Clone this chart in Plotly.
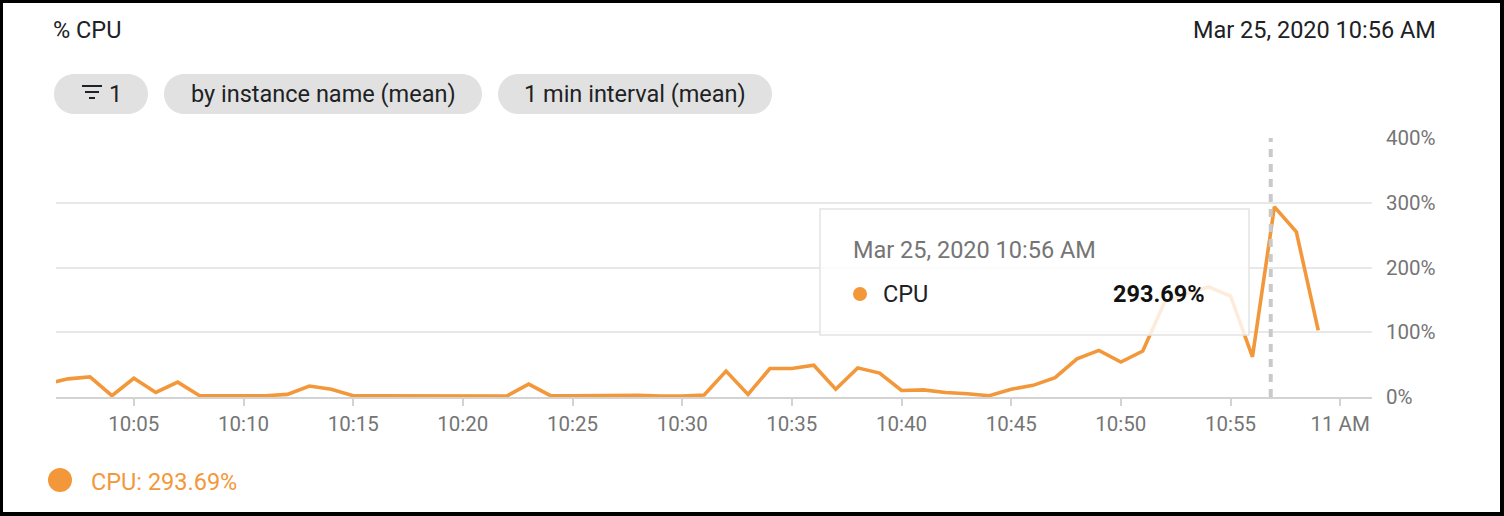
import plotly.graph_objects as go

# ---------------- data ----------------
times = [f"2020-03-25 10:{m:02d}:00" for m in range(1, 60)]
cpu_values = [
    20, 28, 31, 2, 29, 7, 23, 2, 2, 2,          # 10:01-10:10
    2, 4, 17, 12, 2, 2, 2, 2, 2.5, 1.5,         # 10:11-10:20
    1.5, 1.5, 20, 2, 2, 2.5, 2, 2.5, 1.5, 1.5,  # 10:21-10:30
    3, 40, 4, 44, 44, 49, 12, 45, 37, 10,       # 10:31-10:40
    11, 7, 5, 2, 12, 18, 30, 59, 72, 54,        # 10:41-10:50
    71, 147, 160, 170, 156, 62, 293.69, 255, 103  # 10:51-10:59
]
x_tick_vals = [f"2020-03-25 10:{m:02d}:00" for m in range(5, 60, 5)] + ["2020-03-25 11:00:00"]
x_tick_text = ["10:05", "10:10", "10:15", "10:20", "10:25", "10:30",
               "10:35", "10:40", "10:45", "10:50", "10:55", "11 AM"]
y_tick_vals = [0, 100, 200, 300, 400]
y_tick_text = ["0%", "100%", "200%", "300%", "400%"]
chips = ["1", "by instance name (mean)", "1 min interval (mean)"]
title_text = "% CPU"
timestamp_text = "Mar 25, 2020 10:56 AM"
series_name = "CPU"
current_value = "293.69%"
hover_time = "2020-03-25 10:56:50"

# ---------------- layout geometry ----------------
W, H = 1504, 516
ML, MR, MT, MB = 56, 132, 138, 119
PW, PH = W - ML - MR, H - MT - MB

ORANGE = "#F3983A"
DARK = "#202124"
GRAY = "#757575"
FONT = "Roboto"
TXT = 23.5


def px(x):
    return (x - ML) / PW


def py(y):
    return 1 - (y - MT) / PH


def rounded_rect(x0, y0, x1, y1, r):
    k = 0.5523 * r
    pts = [
        f"M {px(x0 + r)},{py(y0)}",
        f"L {px(x1 - r)},{py(y0)}",
        f"C {px(x1 - r + k)},{py(y0)} {px(x1)},{py(y0 + r - k)} {px(x1)},{py(y0 + r)}",
        f"L {px(x1)},{py(y1 - r)}",
        f"C {px(x1)},{py(y1 - r + k)} {px(x1 - r + k)},{py(y1)} {px(x1 - r)},{py(y1)}",
        f"L {px(x0 + r)},{py(y1)}",
        f"C {px(x0 + r - k)},{py(y1)} {px(x0)},{py(y1 - r + k)} {px(x0)},{py(y1 - r)}",
        f"L {px(x0)},{py(y0 + r)}",
        f"C {px(x0)},{py(y0 + r - k)} {px(x0 + r - k)},{py(y0)} {px(x0 + r)},{py(y0)}",
        "Z",
    ]
    return " ".join(pts)


fig = go.Figure()
fig.add_trace(go.Scatter(
    x=times, y=cpu_values, mode="lines", name=series_name,
    line=dict(color=ORANGE, width=3.6), hoverinfo="skip", showlegend=False,
))

shapes = []
annotations = []

# dashed hover line
shapes.append(dict(type="line", xref="x", yref="paper", x0=hover_time, x1=hover_time,
                   y0=0, y1=1, line=dict(color="#c9c9c9", width=4, dash="8px,7px"),
                   layer="above"))

# tooltip box (semi-opaque white over the line)
shapes.append(dict(type="rect", xref="paper", yref="paper",
                   x0=px(820), x1=px(1249), y0=py(209), y1=py(335),
                   fillcolor="rgba(255,255,255,0.82)",
                   line=dict(color="#e3e3e3", width=1.5), layer="above"))
shapes.append(dict(type="circle", xref="paper", yref="paper",
                   x0=px(853), x1=px(867), y0=py(287), y1=py(301),
                   fillcolor=ORANGE, line=dict(width=0), layer="above"))
annotations += [
    dict(x=px(851), y=py(250), xref="paper", yref="paper", text=timestamp_text,
         showarrow=False, xanchor="left", yanchor="middle",
         font=dict(family=FONT, size=TXT, color=GRAY)),
    dict(x=px(881), y=py(294), xref="paper", yref="paper", text=series_name,
         showarrow=False, xanchor="left", yanchor="middle",
         font=dict(family=FONT, size=TXT, color=DARK)),
    dict(x=px(1207), y=py(294), xref="paper", yref="paper", text=f"<b>{current_value}</b>",
         showarrow=False, xanchor="right", yanchor="middle",
         font=dict(family=FONT, size=TXT, color="#111111")),
]

# header
annotations += [
    dict(x=px(51), y=py(30), xref="paper", yref="paper", text=title_text,
         showarrow=False, xanchor="left", yanchor="middle",
         font=dict(family=FONT, size=TXT, color=DARK)),
    dict(x=px(1438), y=py(30), xref="paper", yref="paper", text=timestamp_text,
         showarrow=False, xanchor="right", yanchor="middle",
         font=dict(family=FONT, size=TXT, color=DARK)),
]

# chips
chip_boxes = [(54, 148), (164, 482), (498, 772)]
for (cx0, cx1) in chip_boxes:
    shapes.append(dict(type="path", xref="paper", yref="paper",
                       path=rounded_rect(cx0, 74, cx1, 114, 20),
                       fillcolor="#e1e1e1", line=dict(width=0), layer="above"))
# filter icon (three lines of decreasing length)
for (lx0, lx1, ly) in [(82, 102, 86), (85, 99, 92), (89, 95, 98)]:
    shapes.append(dict(type="line", xref="paper", yref="paper",
                       x0=px(lx0), x1=px(lx1), y0=py(ly), y1=py(ly),
                       line=dict(color=DARK, width=2), layer="above"))
annotations.append(dict(x=px(107), y=py(94), xref="paper", yref="paper", text=chips[0],
                        showarrow=False, xanchor="left", yanchor="middle",
                        font=dict(family=FONT, size=TXT, color=DARK)))
for (cx0, cx1), label in zip(chip_boxes[1:], chips[1:]):
    annotations.append(dict(x=px((cx0 + cx1) / 2), y=py(94), xref="paper", yref="paper",
                            text=label, showarrow=False, xanchor="center", yanchor="middle",
                            font=dict(family=FONT, size=TXT, color=DARK)))

# legend at bottom
shapes.append(dict(type="circle", xref="paper", yref="paper",
                   x0=px(48), x1=px(72), y0=py(468), y1=py(492),
                   fillcolor=ORANGE, line=dict(width=0), layer="above"))
annotations.append(dict(x=px(89), y=py(482), xref="paper", yref="paper",
                        text=f"{series_name}: {current_value}",
                        showarrow=False, xanchor="left", yanchor="middle",
                        font=dict(family=FONT, size=TXT, color=ORANGE)))

# black frame
for (bx0, by0, bx1, by1) in [(0, 0, W, 3), (0, 0, 3, H), (W - 4, 0, W, H), (0, H - 4, W, H)]:
    shapes.append(dict(type="rect", xref="paper", yref="paper",
                       x0=px(bx0), x1=px(bx1), y0=py(by0), y1=py(by1),
                       fillcolor="black", line=dict(width=0), layer="above"))

fig.update_layout(
    width=W, height=H,
    margin=dict(l=ML, r=MR, t=MT, b=MB, pad=0),
    paper_bgcolor="white", plot_bgcolor="white",
    font=dict(family=FONT),
    showlegend=False, hovermode=False,
    shapes=shapes, annotations=annotations,
    xaxis=dict(
        type="date",
        range=["2020-03-25 10:01:27", "2020-03-25 11:01:27"],
        tickmode="array", tickvals=x_tick_vals, ticktext=x_tick_text,
        showgrid=False, zeroline=False,
        showline=True, linecolor="#d3d3d3", linewidth=2,
        ticks="outside", ticklen=7, tickwidth=1.5, tickcolor="#d3d3d3",
        tickfont=dict(family=FONT, size=20.5, color=GRAY),
        fixedrange=True,
    ),
    yaxis=dict(
        side="right", range=[0, 400],
        tickmode="array", tickvals=y_tick_vals, ticktext=y_tick_text,
        showgrid=True, gridcolor="#e8e8e8", gridwidth=1.5,
        zeroline=False, showline=False, ticks="",
        ticklabelstandoff=13,
        tickfont=dict(family=FONT, size=20.5, color=GRAY),
        fixedrange=True,
    ),
)

fig.write_html(
    "out.html",
    config={"displayModeBar": False},
    post_script="document.body.style.margin='0';document.body.style.overflow='hidden';",
)
